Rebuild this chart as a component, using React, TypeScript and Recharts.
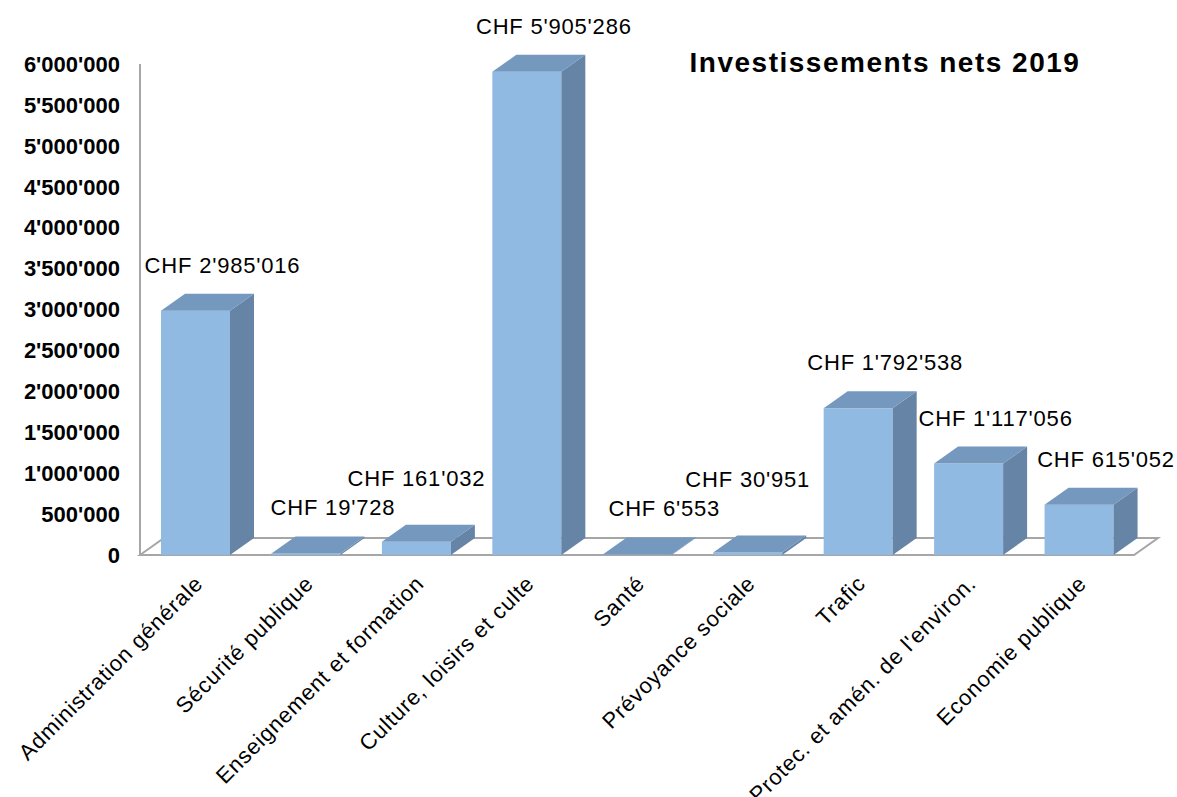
import { Bar, BarChart, LabelList, ReferenceLine, XAxis, YAxis } from "recharts";

const categories = [
  "Administration générale",
  "Sécurité publique",
  "Enseignement et formation",
  "Culture, loisirs et culte",
  "Santé",
  "Prévoyance sociale",
  "Trafic",
  "Protec. et amén. de l'environ.",
  "Economie publique",
];
const amounts = [2985016, 19728, 161032, 5905286, 6553, 30951, 1792538, 1117056, 615052];
const yTicks = [
  0, 500000, 1000000, 1500000, 2000000, 2500000, 3000000, 3500000, 4000000, 4500000, 5000000,
  5500000, 6000000,
];

const data = categories.map((name, i) => ({ name, value: amounts[i] }));

// depth of the fake 3D
const DX = 24;
const DY = 17;
const FRONT = "#91BAE3";
const TOP = "#7598BF";
const SIDE = "#6584A6";
const GRID = "#A6A6A6";
const FONT = "'Liberation Sans', Arial, Helvetica, sans-serif";

function fmt(v: number): string {
  return String(Math.round(v)).replace(/\B(?=(\d{3})+(?!\d))/g, "'");
}

function Box(props: any) {
  const { x, y, width: w, height: h } = props;
  if (x == null || y == null) return null;
  const top = `${x},${y} ${x + DX},${y - DY} ${x + w + DX},${y - DY} ${x + w},${y}`;
  const side = `${x + w},${y} ${x + w + DX},${y - DY} ${x + w + DX},${y + h - DY} ${x + w},${y + h}`;
  return (
    <g>
      <rect x={x} y={y} width={w} height={Math.max(h, 0)} fill={FRONT} />
      <polygon points={side} fill={SIDE} />
      <polygon points={top} fill={TOP} />
    </g>
  );
}

function Floor(props: any) {
  const { x1, y1, x2 } = props;
  const pts = `${x1},${y1} ${x1 + DX},${y1 - DY} ${x2 + DX},${y1 - DY} ${x2},${y1}`;
  return <polygon points={pts} fill="#fff" stroke={GRID} strokeWidth={2} />;
}

// labels are laid out left to right; one that would collide with the
// previous label gets bumped up a line (like Excel does)
const placed: { x0: number; x1: number; y: number }[] = [];

function ValueLabel(props: any) {
  const { x, y, width, value, index } = props;
  const text = "CHF " + fmt(value);
  const w = text.length * 12;
  let cx = x + width / 2 + 27;
  let ty = y - DY - 21;
  const prev = placed[index - 1];
  if (prev && cx - w / 2 < prev.x1 && cx + w / 2 > prev.x0 && Math.abs(ty - prev.y) < 26) {
    ty = prev.y - 29;
    cx = x + width / 2;
  }
  placed[index] = { x0: cx - w / 2, x1: cx + w / 2, y: ty };
  return (
    <text
      x={cx}
      y={ty}
      textAnchor="middle"
      fontFamily={FONT}
      fontSize={22}
      letterSpacing={0.8}
      fill="#000"
    >
      {text}
    </text>
  );
}

function CatTick(props: any) {
  const { x, y, payload } = props;
  const tx = x + 9;
  const ty = y + 30;
  return (
    <text
      x={tx}
      y={ty}
      textAnchor="end"
      fontFamily={FONT}
      fontSize={22}
      letterSpacing={0.8}
      fill="#000"
      transform={`rotate(-45, ${tx}, ${ty})`}
    >
      {payload.value}
    </text>
  );
}

export default function App() {
  return (
    <div style={{ position: "absolute", left: 0, top: 0, width: 1177, height: 797, background: "#fff" }}>
      <BarChart
        width={1177}
        height={797}
        data={data}
        margin={{ top: 64, right: 43, left: 0, bottom: 42 }}
        barSize={69}
      >
        <ReferenceLine y={0} shape={Floor} zIndex={-100} ifOverflow="visible" />
        <XAxis
          dataKey="name"
          axisLine={false}
          tickLine={false}
          tickSize={0}
          tickMargin={0}
          height={200}
          interval={0}
          tick={CatTick}
        />
        <YAxis
          domain={[0, 6000000]}
          ticks={yTicks}
          width={140}
          axisLine={{ stroke: GRID, strokeWidth: 2 }}
          tickLine={false}
          tickSize={0}
          tickMargin={20}
          tickFormatter={fmt}
          tick={{ fill: "#000", fontSize: 22, fontWeight: "bold", fontFamily: FONT }}
        />
        <Bar dataKey="value" shape={Box} isAnimationActive={false}>
          <LabelList dataKey="value" content={ValueLabel} />
        </Bar>
      </BarChart>
      <div
        style={{
          position: "absolute",
          left: 680,
          top: 49,
          width: 410,
          textAlign: "center",
          fontFamily: FONT,
          fontWeight: "bold",
          fontSize: 28,
          letterSpacing: 1.5,
          lineHeight: "28px",
        }}
      >
        Investissements nets 2019
      </div>
    </div>
  );
}
